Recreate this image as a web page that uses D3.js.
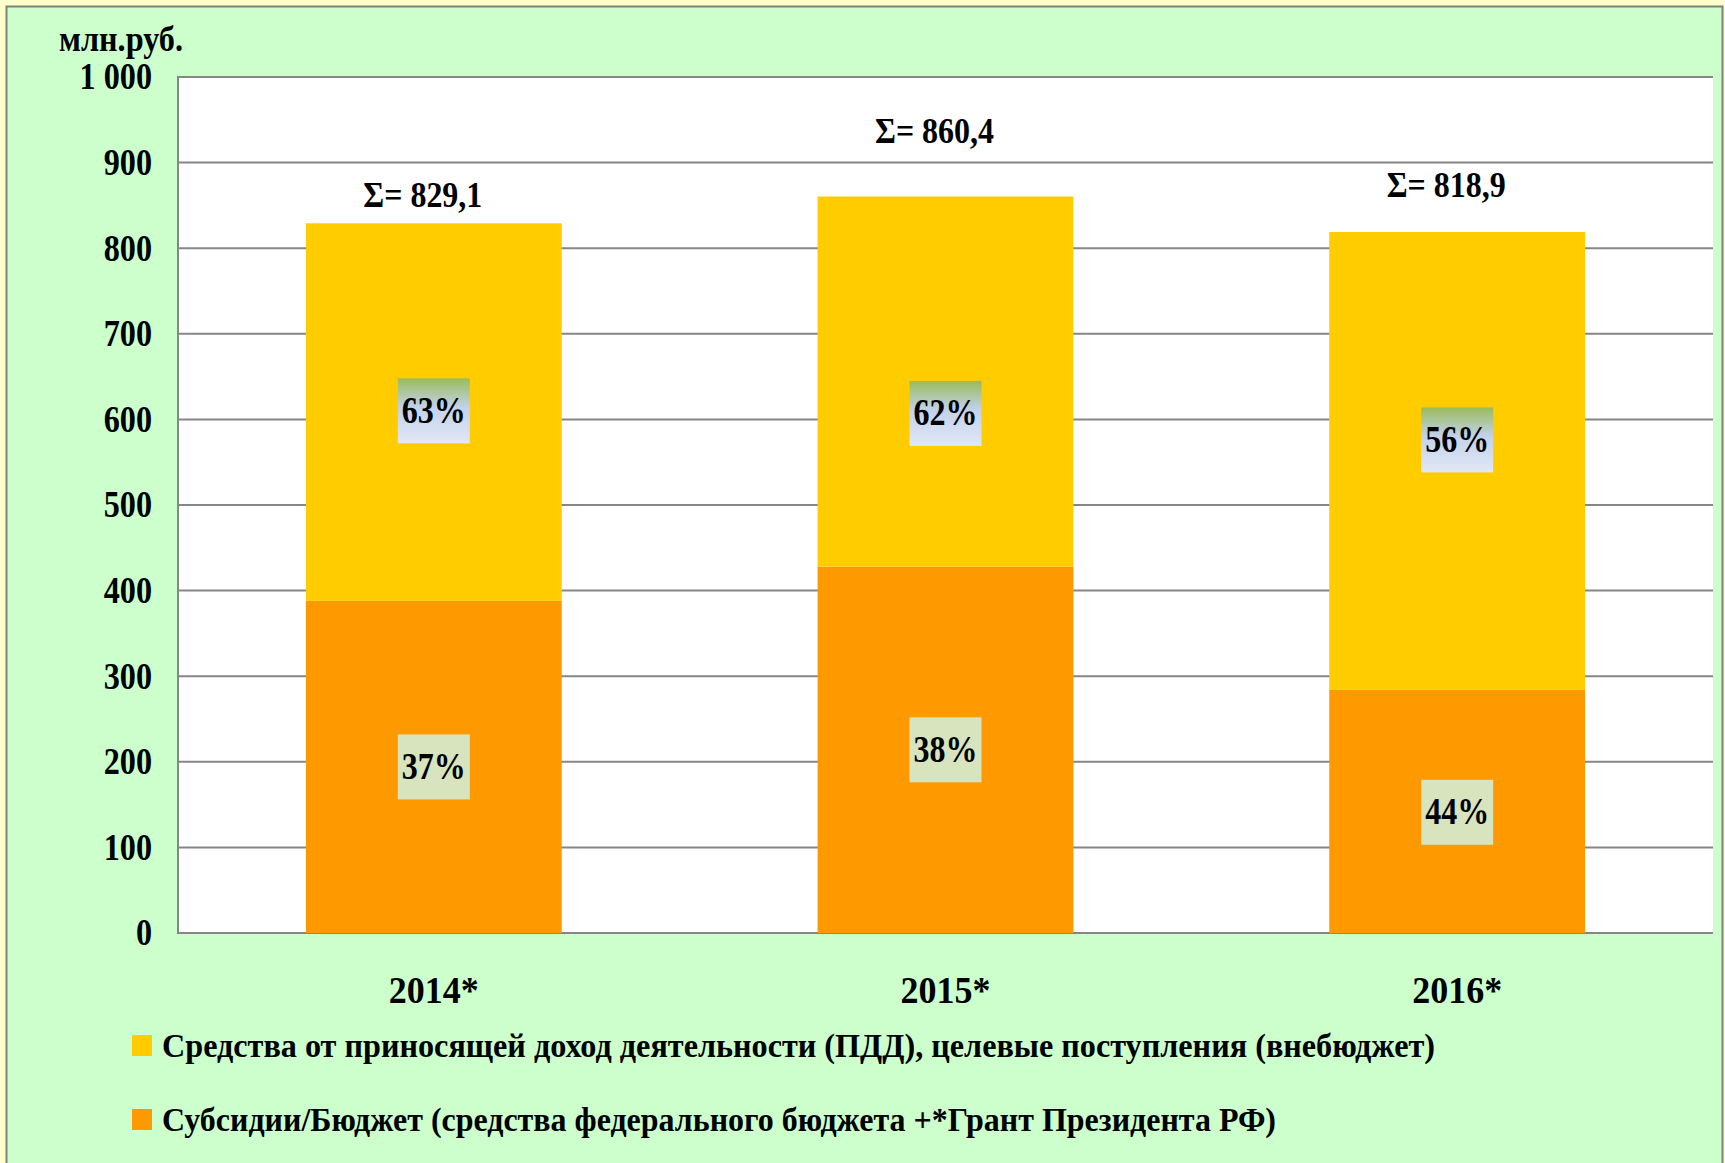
<!DOCTYPE html>
<html>
<head>
<meta charset="utf-8">
<script src="https://cdn.jsdelivr.net/npm/d3@7"></script>
<style>
html,body{margin:0;padding:0;background:#ffffcc;}
svg{display:block;}
text{font-family:"Liberation Serif","Times New Roman",serif;font-weight:bold;fill:#000;}
</style>
</head>
<body>
<svg id="chart" width="1725" height="1163"></svg>
<script>
// ---- data ----
const categories = ["2014*", "2015*", "2016*"];
const budgetValues = [388, 428, 284];          // Субсидии/Бюджет (bottom, orange)
const totals = [829.1, 860.4, 818.9];          // Σ labels
const extraValues = totals.map((t, i) => +(t - budgetValues[i]).toFixed(1)); // ПДД (top, yellow)
const topPercents = ["63%", "62%", "56%"];
const bottomPercents = ["37%", "38%", "44%"];
const totalLabels = ["Σ= 829,1", "Σ= 860,4", "Σ= 818,9"];
const yTicks = [0, 100, 200, 300, 400, 500, 600, 700, 800, 900, 1000];
const yTickLabels = ["0", "100", "200", "300", "400", "500", "600", "700", "800", "900", "1 000"];
const legendLabels = [
  "Средства от приносящей доход деятельности (ПДД), целевые поступления (внебюджет)",
  "Субсидии/Бюджет (средства федерального бюджета +*Грант Президента РФ)"
];
const unitLabel = "млн.руб.";
// label anchor positions in data units (as placed in the original)
const topLabelAt = [610, 607, 576];
const bottomLabelAt = [194, 214, 141];
const totalLabelAt = [848, 923, 860];

// ---- layout ----
const svg = d3.select("#chart");
const plot = {left: 178, right: 1713, top: 77, bottom: 933};
const colYellow = "#ffcc00", colOrange = "#ff9900", gridCol = "#868686";

function condense(sel, f) {
  sel.each(function() {
    const w = this.getComputedTextLength();
    d3.select(this).attr("textLength", w * f).attr("lengthAdjust", "spacingAndGlyphs");
  });
}

// outer frame
svg.append("rect").attr("x", 6.5).attr("y", 6.5).attr("width", 1716).attr("height", 1170)
  .attr("fill", "#ccffcc").attr("stroke", "#808080").attr("stroke-width", 2);

const x = d3.scaleBand().domain(categories).range([plot.left, plot.right])
  .paddingInner(0.5).paddingOuter(0.25);
const y = d3.scaleLinear().domain([0, 1000]).range([plot.bottom, plot.top]);

// plot background
svg.append("rect").attr("x", plot.left).attr("y", plot.top)
  .attr("width", plot.right - plot.left).attr("height", plot.bottom - plot.top).attr("fill", "#fff");

// gridlines
svg.append("g").selectAll("line").data(yTicks).join("line")
  .attr("x1", plot.left).attr("x2", plot.right)
  .attr("y1", d => y(d)).attr("y2", d => y(d))
  .attr("stroke", gridCol).attr("stroke-width", 2);
svg.append("line").attr("x1", plot.left).attr("x2", plot.left)
  .attr("y1", plot.top - 1).attr("y2", plot.bottom + 1)
  .attr("stroke", gridCol).attr("stroke-width", 2);

// y axis labels via d3 axis
const yAxis = d3.axisLeft(y).tickValues(yTicks)
  .tickFormat((d, i) => yTickLabels[i]).tickSize(0).tickPadding(26);
const yg = svg.append("g").attr("transform", `translate(${plot.left},0)`).call(yAxis);
yg.select(".domain").remove();
yg.selectAll("text").attr("font-size", 37).attr("font-family", "Liberation Serif")
  .attr("font-weight", "bold").attr("fill", "#000").attr("dy", "0.32em").call(condense, 0.87);

// unit label
svg.append("text").attr("x", 59).attr("y", 51).attr("font-size", 35)
  .attr("textLength", 124).attr("lengthAdjust", "spacingAndGlyphs").text(unitLabel);

// stacked bars
const stackData = categories.map((c, i) => ({cat: c, budget: budgetValues[i], extra: extraValues[i]}));
const stack = d3.stack().keys(["budget", "extra"])(stackData);
const colors = {budget: colOrange, extra: colYellow};
svg.append("g").selectAll("g").data(stack).join("g")
  .attr("fill", s => colors[s.key])
  .selectAll("rect").data(s => s).join("rect")
  .attr("x", d => x(d.data.cat)).attr("width", x.bandwidth())
  .attr("y", d => y(d[1])).attr("height", d => y(d[0]) - y(d[1]));

// gradient for top labels
const defs = svg.append("defs");
const grad = defs.append("linearGradient").attr("id", "gTop").attr("x1", 0).attr("y1", 0).attr("x2", 0).attr("y2", 1);
grad.append("stop").attr("offset", "0%").attr("stop-color", "#9bbb59");
grad.append("stop").attr("offset", "45%").attr("stop-color", "#c3d2ec");
grad.append("stop").attr("offset", "100%").attr("stop-color", "#e1e8f6");

const boxW = 72, boxH = 65;
function pctLabel(cat, val, txt, fill) {
  const cx = x(cat) + x.bandwidth() / 2, cy = y(val);
  svg.append("rect").attr("x", cx - boxW / 2).attr("y", cy - boxH / 2)
    .attr("width", boxW).attr("height", boxH).attr("fill", fill);
  svg.append("text").attr("x", cx).attr("y", cy + 12).attr("text-anchor", "middle")
    .attr("font-size", 37).attr("textLength", 64).attr("lengthAdjust", "spacingAndGlyphs").text(txt);
}
categories.forEach((c, i) => {
  pctLabel(c, topLabelAt[i], topPercents[i], "url(#gTop)");
  pctLabel(c, bottomLabelAt[i], bottomPercents[i], "#d7e4bd");
});

// total labels
svg.append("g").selectAll("text").data(categories).join("text")
  .attr("x", d => x(d) + x.bandwidth() / 2 - 11)
  .attr("y", (d, i) => y(totalLabelAt[i]))
  .attr("text-anchor", "middle").attr("font-size", 36)
  .attr("textLength", 119).attr("lengthAdjust", "spacingAndGlyphs")
  .text((d, i) => totalLabels[i]);

// x axis labels
const xAxis = d3.axisBottom(x).tickSize(0).tickPadding(0);
const xg = svg.append("g").attr("transform", `translate(0,${plot.bottom})`).call(xAxis);
xg.select(".domain").remove();
xg.selectAll("text").attr("font-size", 37).attr("font-family", "Liberation Serif")
  .attr("font-weight", "bold").attr("fill", "#000").attr("dy", null).attr("y", 70)
  .attr("textLength", 90).attr("lengthAdjust", "spacingAndGlyphs");

// legend
const legendColors = [colYellow, colOrange];
const lg = svg.append("g").selectAll("g").data(legendLabels).join("g")
  .attr("transform", (d, i) => `translate(132,${1035 + i * 74})`);
lg.append("rect").attr("width", 20).attr("height", 21).attr("fill", (d, i) => legendColors[i]);
lg.append("text").attr("x", 30).attr("y", 22).attr("font-size", 34)
  .attr("textLength", (d, i) => [1273, 1114][i]).attr("lengthAdjust", "spacingAndGlyphs")
  .text(d => d);
</script>
</body>
</html>
